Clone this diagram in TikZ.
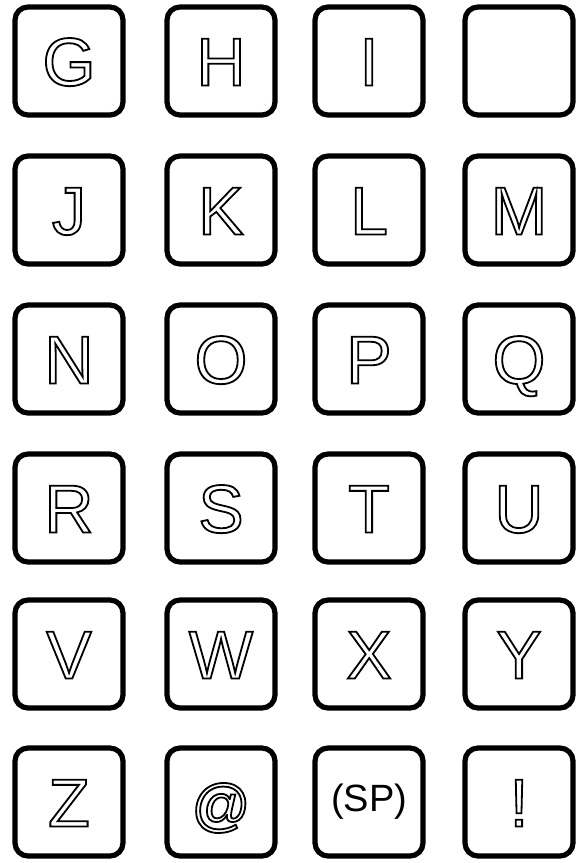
\documentclass[tikz,border=0pt]{standalone}
\usepackage{fontspec}
\setmainfont{Liberation Sans}
\newcommand{\outl}[1]{\special{pdf:literal direct 1 Tr 1.8 w}#1\special{pdf:literal direct 0 Tr}}
\begin{document}
\begin{tikzpicture}[x=1pt,y=-1pt,
  keybox/.style={draw=black, line width=5.2pt, rounded corners=13pt, minimum width=108pt, minimum height=108pt, inner sep=0pt, fill=white},
  keytxt/.style={inner sep=0pt, font=\fontsize{68}{68}\selectfont, text height=49pt, text depth=0pt},
  sptxt/.style={inner sep=0pt, font=\fontsize{38}{38}\selectfont}]
\useasboundingbox (0,0) rectangle (582,863);
% column and row centres
\def\ca{69}\def\cb{221}\def\cc{369}\def\cd{519}
\def\ra{61}\def\rb{210}\def\rc{359}\def\rd{508}\def\re{654}\def\rf{802}
% boxes
\foreach \r/\rn in {\ra/1,\rb/2,\rc/3,\rd/4,\re/5,\rf/6}{
  \foreach \c/\cn in {\ca/1,\cb/2,\cc/3,\cd/4}{
    \node[keybox] (k\rn\cn) at (\c,\r) {};
  }
}
% labels
\node[keytxt] (tG) at (k11) {\outl{G}};
\node[keytxt] (tH) at (k12) {\outl{H}};
\node[keytxt] (tI) at (k13) {\outl{I}};
\node[keytxt] (tJ) at (k21) {\outl{J}};
\node[keytxt] (tK) at (k22) {\outl{K}};
\node[keytxt] (tL) at (k23) {\outl{L}};
\node[keytxt] (tM) at (k24) {\outl{M}};
\node[keytxt] (tN) at (k31) {\outl{N}};
\node[keytxt] (tO) at (k32) {\outl{O}};
\node[keytxt] (tP) at (k33) {\outl{P}};
\node[keytxt] (tQ) at (k34) {\outl{Q}};
\node[keytxt] (tR) at (k41) {\outl{R}};
\node[keytxt] (tS) at (k42) {\outl{S}};
\node[keytxt] (tT) at (k43) {\outl{T}};
\node[keytxt] (tU) at (k44) {\outl{U}};
\node[keytxt] (tV) at (k51) {\outl{V}};
\node[keytxt] (tW) at (k52) {\outl{W}};
\node[keytxt] (tX) at (k53) {\outl{X}};
\node[keytxt] (tY) at (k54) {\outl{Y}};
\node[keytxt] (tZ) at (k61) {\outl{Z}};
\node[inner sep=0pt, font=\fontsize{58}{58}\selectfont, text height=42pt, text depth=0pt] (tAt) at ([yshift=-2pt]k62) {\outl{@}};
\node[sptxt] (tSP) at (k63) {(SP)};
\node[keytxt] (tEx) at (k64) {\outl{!}};
\end{tikzpicture}
\end{document}
